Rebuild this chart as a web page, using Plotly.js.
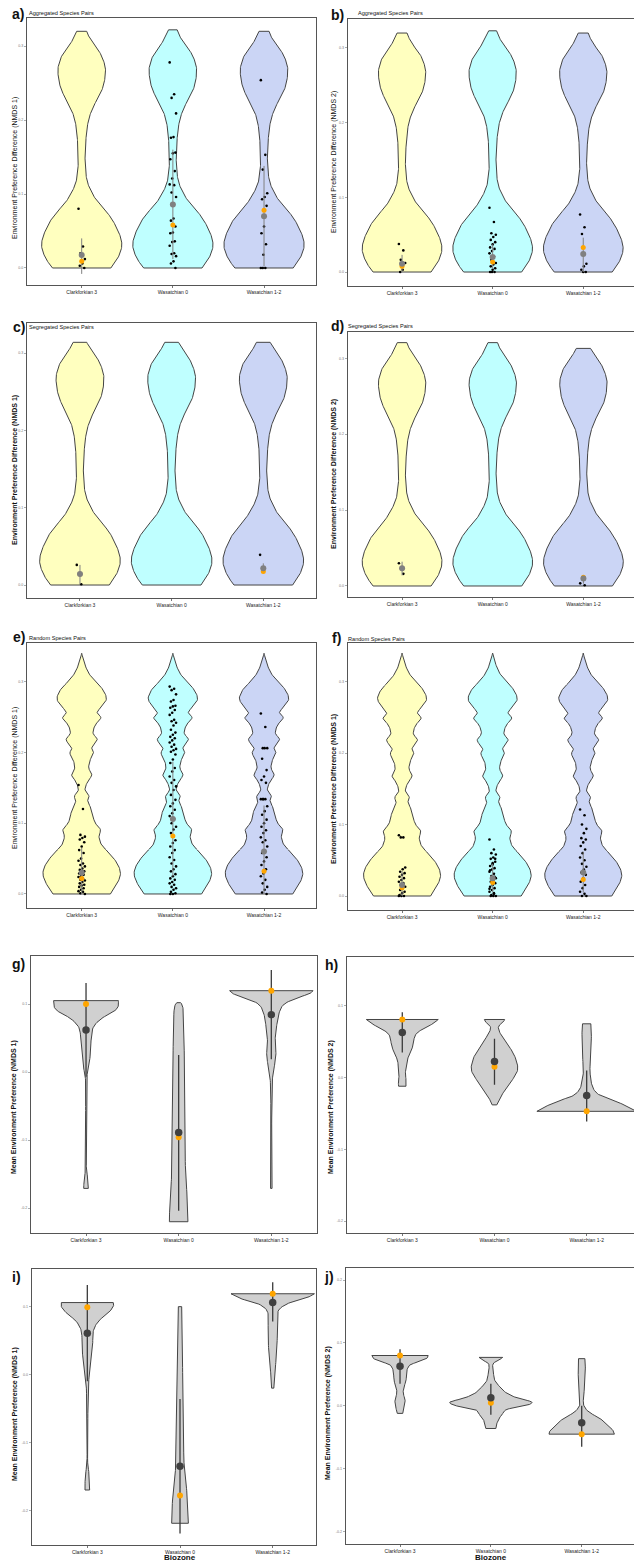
<!DOCTYPE html>
<html>
<head>
<meta charset="utf-8">
<script src="https://cdn.plot.ly/plotly-3.0.1.min.js"></script>
<style>
html,body{margin:0;padding:0;background:#fff;overflow:hidden;}
#chart{width:645px;height:1564px;}
</style>
</head>
<body>
<div id="chart"></div>
<script>
// ---------- categories ----------
const biozones = ['Clarkforkian 3', 'Wasatchian 0', 'Wasatchian 1-2'];
const biozoneFill = ['#FFFFBF', '#BFFFFF', '#CBD5F5'];

// ---------- violin density profiles (value, half-width) ----------
// shared null-distribution shape, panels a-d
const adY = [0, 0.01, 0.02, 0.03, 0.04, 0.05, 0.06, 0.07, 0.08, 0.09, 0.10, 0.11, 0.12, 0.13, 0.14, 0.15, 0.16, 0.17, 0.18, 0.19, 0.20, 0.21, 0.22, 0.23, 0.24, 0.25, 0.26, 0.27, 0.28, 0.29, 0.30, 0.31, 0.32, 0.325];
const adW = [0.32, 0.38, 0.42, 0.44, 0.43, 0.40, 0.36, 0.31, 0.24, 0.17, 0.12, 0.08, 0.055, 0.045, 0.038, 0.037, 0.04, 0.045, 0.05, 0.06, 0.075, 0.10, 0.135, 0.18, 0.22, 0.245, 0.258, 0.26, 0.24, 0.205, 0.145, 0.09, 0.055, 0.035];
const aTop = [0.320, 0.322, 0.320];
const bTop = [0.320, 0.323, 0.320];
const cTop = [0.314, 0.314, 0.314];
const dTop = [0.3206, 0.3206, 0.313];
// shared null-distribution shape, panels e-f
const efY = [0, 0.015, 0.029, 0.043, 0.058, 0.069, 0.081, 0.091, 0.100, 0.109, 0.119, 0.131, 0.138, 0.147, 0.159, 0.168, 0.178, 0.190, 0.199, 0.206, 0.218, 0.227, 0.239, 0.249, 0.256, 0.263, 0.275, 0.289, 0.300, 0.312, 0.326, 0.340];
const efW = [0.315, 0.39, 0.425, 0.39, 0.30, 0.22, 0.19, 0.205, 0.15, 0.125, 0.11, 0.066, 0.08, 0.037, 0.066, 0.11, 0.077, 0.095, 0.13, 0.11, 0.17, 0.125, 0.15, 0.21, 0.17, 0.205, 0.27, 0.23, 0.15, 0.077, 0.03, 0.0];

// ---------- panel a: aggregated pairs, NMDS 1 ----------
const aC3 = [0.080, 0.029, 0.020, 0.012, 0.006, 0.003, 0.0];
const aW0 = [0.278, 0.235, 0.230, 0.209, 0.177, 0.176, 0.156, 0.155, 0.147, 0.131, 0.121, 0.113, 0.112, 0.102, 0.096, 0.067, 0.064, 0.056, 0.048, 0.047, 0.036, 0.035, 0.030, 0.020, 0.019, 0.016, 0.009, 0.006, 0.0];
const aW12 = [0.254, 0.153, 0.133, 0.101, 0.096, 0.093, 0.084, 0.056, 0.047, 0.032, 0.018, 0.0, 0.0, 0.0];
const aMean = [0.0175, 0.086, 0.070];
const aMedian = [0.009, 0.058, 0.078];
const aLow = [-0.008, 0.012, 0.002];
const aHigh = [0.040, 0.160, 0.138];

// ---------- panel b: aggregated pairs, NMDS 2 ----------
const bC3 = [0.0375, 0.029, 0.0165, 0.012, 0.003, 0.0];
const bW0 = [0.086, 0.067, 0.052, 0.050, 0.047, 0.043, 0.040, 0.037, 0.033, 0.031, 0.028, 0.025, 0.021, 0.0165, 0.012, 0.010, 0.0076, 0.005, 0.003, 0.0, 0.0, 0.0];
const bW12 = [0.077, 0.060, 0.051, 0.011, 0.0076, 0.003, 0.0, 0.0];
const bMean = [0.011, 0.020, 0.024];
const bMedian = [0.0076, 0.0134, 0.033];
const bLow = [0.0, 0.005, 0.0];
const bHigh = [0.023, 0.037, 0.046];

// ---------- panel c: segregated pairs, NMDS 1 ----------
const cC3 = [0.026, 0.001];
const cW0 = [];
const cW12 = [0.039];
const cMean = [0.0143, null, 0.0217];
const cMedian = [0.0143, null, 0.0174];
const cLow = [0.001, null, 0.017];
const cHigh = [0.026, null, 0.028];

// ---------- panel d: segregated pairs, NMDS 2 ----------
const dC3 = [0.030, 0.016];
const dW0 = [];
const dW12 = [0.0035, 0.001];
const dMean = [0.0233, null, 0.010];
const dMedian = [0.0233, null, 0.0114];
const dLow = [0.014, null, 0.003];
const dHigh = [0.032, null, 0.012];

// ---------- panel e: random pairs, NMDS 1 ----------
const eC3 = [0.154, 0.120, 0.0835, 0.081, 0.079, 0.077, 0.073, 0.067, 0.062, 0.058, 0.050, 0.047, 0.043, 0.041, 0.039, 0.036, 0.034, 0.032, 0.030, 0.029, 0.027, 0.025, 0.024, 0.022, 0.020, 0.019, 0.017, 0.015, 0.013, 0.012, 0.010, 0.008, 0.006, 0.004, 0.003, 0.001, 0.0];
const eW0 = [0.293, 0.290, 0.288, 0.282, 0.274, 0.272, 0.266, 0.265, 0.263, 0.260, 0.256, 0.253, 0.246, 0.244, 0.242, 0.238, 0.232, 0.228, 0.225, 0.222, 0.220, 0.217, 0.214, 0.211, 0.208, 0.205, 0.203, 0.201, 0.197, 0.190, 0.185, 0.178, 0.173, 0.166, 0.161, 0.157, 0.152, 0.147, 0.140, 0.133, 0.128, 0.124, 0.119, 0.114, 0.110, 0.106, 0.100, 0.095, 0.091, 0.086, 0.076, 0.072, 0.067, 0.062, 0.058, 0.052, 0.048, 0.043, 0.039, 0.035, 0.032, 0.028, 0.025, 0.022, 0.020, 0.017, 0.015, 0.013, 0.010, 0.008, 0.006, 0.003, 0.001, 0.0, 0.0];
const eW12 = [0.255, 0.236, 0.206, 0.206, 0.206, 0.191, 0.175, 0.166, 0.161, 0.157, 0.134, 0.134, 0.134, 0.134, 0.124, 0.117, 0.112, 0.105, 0.100, 0.095, 0.090, 0.086, 0.080, 0.076, 0.073, 0.067, 0.061, 0.058, 0.052, 0.046, 0.041, 0.035, 0.029, 0.025, 0.020, 0.015, 0.010, 0.006, 0.002, 0.0];
const eMean = [0.030, 0.106, 0.060];
const eMedian = [0.022, 0.082, 0.032];
const eLow = [0.0, 0.025, 0.0];
const eHigh = [0.065, 0.187, 0.125];

// ---------- panel f: random pairs, NMDS 2 ----------
const fC3 = [0.085, 0.082, 0.082, 0.040, 0.0375, 0.034, 0.032, 0.0296, 0.027, 0.025, 0.0225, 0.020, 0.018, 0.0155, 0.013, 0.011, 0.0085, 0.006, 0.004, 0.0014, 0.0, 0.0, 0.0];
const fW0 = [0.079, 0.065, 0.060, 0.058, 0.054, 0.052, 0.048, 0.046, 0.042, 0.039, 0.037, 0.034, 0.031, 0.028, 0.025, 0.0225, 0.020, 0.018, 0.0155, 0.013, 0.011, 0.0085, 0.006, 0.004, 0.0014, 0.0, 0.0, 0.0, 0.052, 0.044, 0.036, 0.027, 0.019, 0.010, 0.003];
const fW12 = [0.121, 0.113, 0.100, 0.094, 0.088, 0.081, 0.079, 0.075, 0.070, 0.065, 0.060, 0.054, 0.050, 0.045, 0.041, 0.037, 0.033, 0.0296, 0.025, 0.020, 0.0155, 0.011, 0.006, 0.003, 0.0, 0.0];
const fMean = [0.0155, 0.025, 0.033];
const fMedian = [0.0117, 0.019, 0.023];
const fLow = [0.0, 0.005, 0.005];
const fHigh = [0.035, 0.045, 0.062];

// ---------- panel g: mean preference, NMDS 1 ----------
const gC3Y = [-0.171, -0.160, -0.150, -0.144, -0.125, -0.075, -0.026, -0.007, 0.008, 0.027, 0.052, 0.067, 0.079, 0.089, 0.096, 0.105];
const gC3W = [0.025, 0.022, 0.012, 0.004, 0.004, 0.004, 0.005, 0.008, 0.029, 0.047, 0.058, 0.083, 0.17, 0.30, 0.345, 0.35];
const gW0Y = [-0.220, -0.205, -0.180, -0.150, -0.100, -0.050, 0.0, 0.050, 0.090, 0.100, 0.102];
const gW0W = [0.10, 0.098, 0.09, 0.075, 0.068, 0.064, 0.062, 0.058, 0.05, 0.035, 0.02];
const gW12Y = [-0.171, -0.150, -0.120, -0.050, -0.020, 0.0, 0.010, 0.025, 0.040, 0.055, 0.070, 0.085, 0.100, 0.110, 0.115, 0.1196];
const gW12W = [0.008, 0.006, 0.004, 0.005, 0.008, 0.02, 0.035, 0.05, 0.042, 0.045, 0.06, 0.08, 0.14, 0.30, 0.41, 0.45];
const gMean = [0.062, -0.089, 0.0843];
const gMedian = [0.100, -0.096, 0.1196];
const gLow = [-0.007, -0.204, 0.019];
const gHigh = [0.131, 0.025, 0.150];

// ---------- panel h: mean preference, NMDS 2 ----------
const hC3Y = [-0.012, -0.005, 0.005, 0.015, 0.025, 0.035, 0.045, 0.060, 0.068, 0.075, 0.081];
const hC3W = [0.04, 0.043, 0.033, 0.043, 0.054, 0.09, 0.116, 0.145, 0.225, 0.33, 0.39];
const hW0Y = [-0.038, -0.030, -0.020, -0.010, 0.0, 0.010, 0.020, 0.035, 0.050, 0.065, 0.072, 0.078, 0.081];
const hW0W = [0.025, 0.054, 0.10, 0.155, 0.21, 0.25, 0.245, 0.20, 0.12, 0.05, 0.047, 0.10, 0.11];
const hW12Y = [-0.047, -0.042, -0.0376, -0.030, -0.026, -0.019, -0.009, 0.0, 0.010, 0.030, 0.050, 0.070, 0.075];
const hW12W = [0.54, 0.47, 0.40, 0.25, 0.16, 0.09, 0.054, 0.043, 0.035, 0.045, 0.05, 0.05, 0.045];
const hMean = [0.063, 0.0225, -0.025];
const hMedian = [0.081, 0.015, -0.047];
const hLow = [0.035, -0.010, -0.061];
const hHigh = [0.091, 0.054, 0.010];

// ---------- panel i: mean preference, NMDS 1 ----------
const iC3Y = [-0.170, -0.150, -0.130, -0.080, -0.020, 0.0, 0.020, 0.040, 0.060, 0.070, 0.080, 0.090, 0.100, 0.106];
const iC3W = [0.025, 0.022, 0.004, 0.005, 0.01, 0.022, 0.043, 0.058, 0.06, 0.08, 0.13, 0.22, 0.28, 0.28];
const iW0Y = [-0.219, -0.190, -0.160, -0.130, -0.013, 0.050, 0.100];
const iW0W = [0.09, 0.083, 0.065, 0.043, 0.03, 0.024, 0.018];
const iW12Y = [-0.020, -0.010, 0.0, 0.020, 0.040, 0.060, 0.080, 0.095, 0.105, 0.112, 0.119];
const iW12W = [0.012, 0.015, 0.02, 0.035, 0.045, 0.05, 0.05, 0.065, 0.17, 0.35, 0.45];
const iMean = [0.061, -0.135, 0.106];
const iMedian = [0.099, -0.178, 0.119];
const iLow = [-0.010, -0.234, 0.078];
const iHigh = [0.132, -0.036, 0.136];

// ---------- panel j: mean preference, NMDS 2 ----------
const jC3Y = [-0.012, 0.0, 0.010, 0.020, 0.030, 0.040, 0.055, 0.065, 0.070, 0.075, 0.080];
const jC3W = [0.03, 0.05, 0.055, 0.035, 0.044, 0.066, 0.074, 0.11, 0.20, 0.29, 0.31];
const jW0Y = [-0.036, -0.030, -0.025, -0.020, -0.015, -0.010, -0.005, 0.0, 0.006, 0.012, 0.020, 0.030, 0.040, 0.050, 0.060, 0.068, 0.072, 0.077];
const jW0W = [0.055, 0.06, 0.075, 0.085, 0.12, 0.14, 0.19, 0.38, 0.45, 0.30, 0.176, 0.10, 0.045, 0.03, 0.02, 0.03, 0.085, 0.13];
const jW12Y = [-0.045, -0.040, -0.030, -0.020, -0.010, 0.0, 0.010, 0.020, 0.040, 0.060, 0.075];
const jW12W = [0.36, 0.35, 0.28, 0.20, 0.08, 0.025, 0.018, 0.025, 0.035, 0.04, 0.035];
const jMean = [0.063, 0.013, -0.027];
const jMedian = [0.080, 0.005, -0.045];
const jLow = [0.035, -0.014, -0.065];
const jHigh = [0.090, 0.035, 0.0];

// ---------- text ----------
const headings = {a: 'Aggregated Species Pairs', b: 'Aggregated Species Pairs', c: 'Segregated Species Pairs', d: 'Segregated Species Pairs', e: 'Random Species Pairs', f: 'Random Species Pairs'};
const yTitles = {
  a: 'Environment Preference Difference (NMDS 1)', b: 'Environment Preference Difference (NMDS 2)',
  c: 'Environment Preference Difference (NMDS 1)', d: 'Environment Preference Difference (NMDS 2)',
  e: 'Environment Preference Difference (NMDS 1)', f: 'Environment Preference Difference (NMDS 1)',
  g: 'Mean Environment Preference (NMDS 1)', h: 'Mean Environment Preference (NMDS 2)',
  i: 'Mean Environment Preference (NMDS 1)', j: 'Mean Environment Preference (NMDS 2)'
};
const xTitle = 'Biozone';

// ---------- layout of the panels (pixels) ----------
const W = 645, H = 1564;
const FONT = 'Liberation Sans, Arial, Helvetica, sans-serif';
const panels = [
  {id:'a', kind:'ad', top:aTop, pts:[aC3,aW0,aW12], mean:aMean, med:aMedian, lo:aLow, hi:aHigh,
   px:[27,316], py:[18,285], xr:[-0.6,2.57], yr:[-0.023,0.338], ticks:[0,0.1,0.2,0.3],
   letter:[11,14], head:[28,12.7], yt:[15,168], ytBold:false},
  {id:'b', kind:'ad', top:bTop, pts:[bC3,bW0,bW12], mean:bMean, med:bMedian, lo:bLow, hi:bHigh,
   px:[347.7,637.6], py:[19,286], xr:[-0.6,2.6], yr:[-0.0187,0.3388], ticks:[0,0.1,0.2,0.3],
   letter:[330,15], head:[356.5,13.3], yt:[334,162], ytBold:false},
  {id:'c', kind:'ad', top:cTop, pts:[cC3,cW0,cW12], mean:cMean, med:cMedian, lo:cLow, hi:cHigh,
   px:[27,316], py:[323,598], xr:[-0.578,2.575], yr:[-0.0168,0.339], ticks:[0,0.1,0.2,0.3],
   letter:[12,326.5], head:[28,326.7], yt:[15,470], ytBold:true},
  {id:'d', kind:'ad', top:dTop, pts:[dC3,dW0,dW12], mean:dMean, med:dMedian, lo:dLow, hi:dHigh,
   px:[347.7,637.8], py:[331.7,597.3], xr:[-0.6,2.6], yr:[-0.0149,0.335], ticks:[0,0.1,0.2,0.3],
   letter:[330,326], head:[347,326], yt:[334,474], ytBold:true},
  {id:'e', kind:'ef', pts:[eC3,eW0,eW12], mean:eMean, med:eMedian, lo:eLow, hi:eHigh,
   px:[27,316], py:[642.7,908], xr:[-0.6,2.57], yr:[-0.0198,0.355], ticks:[0,0.1,0.2,0.3],
   letter:[12,637], head:[28,638.3], yt:[15,778], ytBold:false},
  {id:'f', kind:'ef', pts:[fC3,fW0,fW12], mean:fMean, med:fMedian, lo:fLow, hi:fHigh,
   px:[347.7,637.6], py:[642.7,910], xr:[-0.6,2.6], yr:[-0.0196,0.3546], ticks:[0,0.1,0.2,0.3],
   letter:[331,638], head:[346.5,639], yt:[334,789], ytBold:true},
  {id:'g', kind:'gray', vy:[gC3Y,gW0Y,gW12Y], vw:[gC3W,gW0W,gW12W], mean:gMean, med:gMedian, lo:gLow, hi:gHigh,
   px:[31,316.7], py:[956,1233.3], xr:[-0.594,2.49], yr:[-0.237,0.1706], ticks:[-0.2,-0.1,0,0.1],
   letter:[11,964], yt:[14,1107], ytBold:true},
  {id:'h', kind:'gray', vy:[hC3Y,hW0Y,hW12Y], vw:[hC3W,hW0W,hW12W], mean:hMean, med:hMedian, lo:hLow, hi:hHigh,
   px:[346.7,642], py:[957.3,1233.3], xr:[-0.603,2.6], yr:[-0.217,0.1677], ticks:[-0.2,-0.1,0,0.1],
   letter:[324,965], yt:[331,1107], ytBold:true},
  {id:'i', kind:'gray', vy:[iC3Y,iW0Y,iW12Y], vw:[iC3W,iW0W,iW12W], mean:iMean, med:iMedian, lo:iLow, hi:iHigh,
   px:[31.7,316], py:[1269.3,1545], xr:[-0.6,2.467], yr:[-0.251,0.155], ticks:[-0.2,-0.1,0,0.1],
   letter:[11,1277], yt:[15,1414], ytBold:true, xt:[180,1557.5]},
  {id:'j', kind:'gray', vy:[jC3Y,jW0Y,jW12Y], vw:[jC3W,jW0W,jW12W], mean:jMean, med:jMedian, lo:jLow, hi:jHigh,
   px:[345.7,636.2], py:[1268.3,1544], xr:[-0.598,2.6], yr:[-0.2196,0.2186], ticks:[-0.2,-0.1,0,0.1,0.2],
   letter:[323,1277], yt:[328,1413], ytBold:true, xt:[491,1557.5]}
];

// ---------- helpers ----------
function smoothProfile(ys, ws, n) {
  const N = ys.length, m = [];
  for (let i = 0; i < N; i++) {
    if (i === 0) m.push((ws[1] - ws[0]) / (ys[1] - ys[0]));
    else if (i === N - 1) m.push((ws[N-1] - ws[N-2]) / (ys[N-1] - ys[N-2]));
    else m.push((ws[i+1] - ws[i-1]) / (ys[i+1] - ys[i-1]));
  }
  const oy = [], ow = [];
  for (let i = 0; i < N - 1; i++) {
    const h = ys[i+1] - ys[i];
    for (let k = 0; k < n; k++) {
      const t = k / n, t2 = t*t, t3 = t2*t;
      const w = (2*t3 - 3*t2 + 1) * ws[i] + (t3 - 2*t2 + t) * h * m[i] + (-2*t3 + 3*t2) * ws[i+1] + (t3 - t2) * h * m[i+1];
      oy.push(ys[i] + t*h); ow.push(Math.max(0, w));
    }
  }
  oy.push(ys[N-1]); ow.push(ws[N-1]);
  return {y: oy, w: ow};
}
function cutTop(prof, top) {
  const y = [], w = [];
  for (let k = 0; k < prof.y.length; k++) {
    if (prof.y[k] <= top) { y.push(prof.y[k]); w.push(prof.w[k]); }
    else {
      const y0 = prof.y[k-1], w0 = prof.w[k-1];
      const f = (top - y0) / (prof.y[k] - y0);
      y.push(top); w.push(w0 + f * (prof.w[k] - w0));
      break;
    }
  }
  return {y, w};
}
function outline(prof, c) {
  const xs = [], ys = [];
  for (let k = 0; k < prof.y.length; k++) { xs.push(c + prof.w[k]); ys.push(prof.y[k]); }
  for (let k = prof.y.length - 1; k >= 0; k--) { xs.push(c - prof.w[k]); ys.push(prof.y[k]); }
  xs.push(xs[0]); ys.push(ys[0]);
  return {xs, ys};
}
// small horizontal spread of the raw points (visual jitter only)
function jitter(i) { return (((i * 7) % 11) - 5) * 0.007; }

const traces = [];
const annotations = [];
const layout = {
  width: W, height: H, margin: {l:0, r:0, t:0, b:0},
  paper_bgcolor: '#ffffff', plot_bgcolor: '#ffffff', showlegend: false,
  font: {family: FONT, color: '#000'}
};

const adProf = smoothProfile(adY, adW, 8);
const efProf = smoothProfile(efY, efW, 8);

panels.forEach((p, idx) => {
  const s = idx === 0 ? '' : String(idx + 1);
  const xa = 'x' + s, ya = 'y' + s;
  layout['xaxis' + s] = {
    domain: [p.px[0] / W, p.px[1] / W], range: p.xr, anchor: ya,
    tickmode: 'array', tickvals: [0, 1, 2], ticktext: biozones,
    tickfont: {size: 5, color: '#222', family: FONT},
    showline: true, mirror: true, linecolor: '#555', linewidth: 1,
    ticks: 'outside', ticklen: 2, tickwidth: 0.8, tickcolor: '#555',
    showgrid: false, zeroline: false, fixedrange: true
  };
  layout['yaxis' + s] = {
    domain: [1 - p.py[1] / H, 1 - p.py[0] / H], range: p.yr, anchor: xa,
    tickmode: 'array', tickvals: p.ticks, ticktext: p.ticks.map(v => v.toFixed(1)),
    tickfont: {size: 3.6, color: '#777', family: FONT},
    showline: true, mirror: true, linecolor: '#555', linewidth: 1,
    ticks: 'outside', ticklen: 2, tickwidth: 0.6, tickcolor: '#777',
    showgrid: false, zeroline: false, fixedrange: true
  };

  for (let c = 0; c < 3; c++) {
    let prof, fill;
    if (p.kind === 'ad') { prof = cutTop(adProf, p.top[c]); fill = biozoneFill[c]; }
    else if (p.kind === 'ef') { prof = efProf; fill = biozoneFill[c]; }
    else { prof = smoothProfile(p.vy[c], p.vw[c], 8); fill = '#D0D0D0'; }
    const o = outline(prof, c);
    traces.push({type: 'scatter', mode: 'lines', x: o.xs, y: o.ys, xaxis: xa, yaxis: ya,
      fill: 'toself', fillcolor: fill, line: {color: '#444', width: 1}, hoverinfo: 'skip'});
  }

  if (p.kind !== 'gray') {
    for (let c = 0; c < 3; c++) {
      const vals = p.pts[c];
      if (vals.length) {
        traces.push({type: 'scatter', mode: 'markers', x: vals.map((v, i) => c + jitter(i)), y: vals,
          xaxis: xa, yaxis: ya, marker: {color: '#000', size: 2.6}, hoverinfo: 'skip'});
      }
      if (p.lo[c] !== null) {
        traces.push({type: 'scatter', mode: 'lines', x: [c, c], y: [p.lo[c], p.hi[c]], xaxis: xa, yaxis: ya,
          line: {color: '#808080', width: 1}, hoverinfo: 'skip'});
      }
    }
    traces.push({type: 'scatter', mode: 'markers', x: [0, 1, 2], y: p.med, xaxis: xa, yaxis: ya,
      marker: {color: '#FFA500', size: 5}, hoverinfo: 'skip'});
    traces.push({type: 'scatter', mode: 'markers', x: [0, 1, 2], y: p.mean, xaxis: xa, yaxis: ya,
      marker: {color: '#808080', size: 6}, hoverinfo: 'skip'});
  } else {
    for (let c = 0; c < 3; c++) {
      traces.push({type: 'scatter', mode: 'lines', x: [c, c], y: [p.lo[c], p.hi[c]], xaxis: xa, yaxis: ya,
        line: {color: '#3a3a3a', width: 1.3}, hoverinfo: 'skip'});
    }
    traces.push({type: 'scatter', mode: 'markers', x: [0, 1, 2], y: p.med, xaxis: xa, yaxis: ya,
      marker: {color: '#FFA500', size: 6}, hoverinfo: 'skip'});
    traces.push({type: 'scatter', mode: 'markers', x: [0, 1, 2], y: p.mean, xaxis: xa, yaxis: ya,
      marker: {color: '#404040', size: 7.5}, hoverinfo: 'skip'});
  }

  // panel letter
  annotations.push({text: '<b>' + p.id + ')</b>', xref: 'paper', yref: 'paper',
    x: p.letter[0] / W, y: 1 - p.letter[1] / H, xanchor: 'left', yanchor: 'middle',
    showarrow: false, font: {size: 14, family: FONT, color: '#111'}, borderpad: 0});
  if (headings[p.id]) {
    annotations.push({text: headings[p.id], xref: 'paper', yref: 'paper',
      x: p.head[0] / W, y: 1 - p.head[1] / H, xanchor: 'left', yanchor: 'middle',
      showarrow: false, font: {size: 5.6, family: FONT, color: '#111'}, borderpad: 0});
  }
  annotations.push({text: p.ytBold ? '<b>' + yTitles[p.id] + '</b>' : yTitles[p.id], xref: 'paper', yref: 'paper',
    x: p.yt[0] / W, y: 1 - p.yt[1] / H, xanchor: 'center', yanchor: 'middle', textangle: -90,
    showarrow: false, font: {size: 7, family: FONT, color: '#111'}, borderpad: 0});
  if (p.xt) {
    annotations.push({text: '<b>' + xTitle + '</b>', xref: 'paper', yref: 'paper',
      x: p.xt[0] / W, y: 1 - p.xt[1] / H, xanchor: 'center', yanchor: 'middle',
      showarrow: false, font: {size: 8, family: FONT, color: '#111'}, borderpad: 0});
  }
});
layout.annotations = annotations;

Plotly.newPlot('chart', traces.map(t => Object.assign({showlegend: false}, t)), layout, {staticPlot: true, displayModeBar: false});
</script>
</body>
</html>
